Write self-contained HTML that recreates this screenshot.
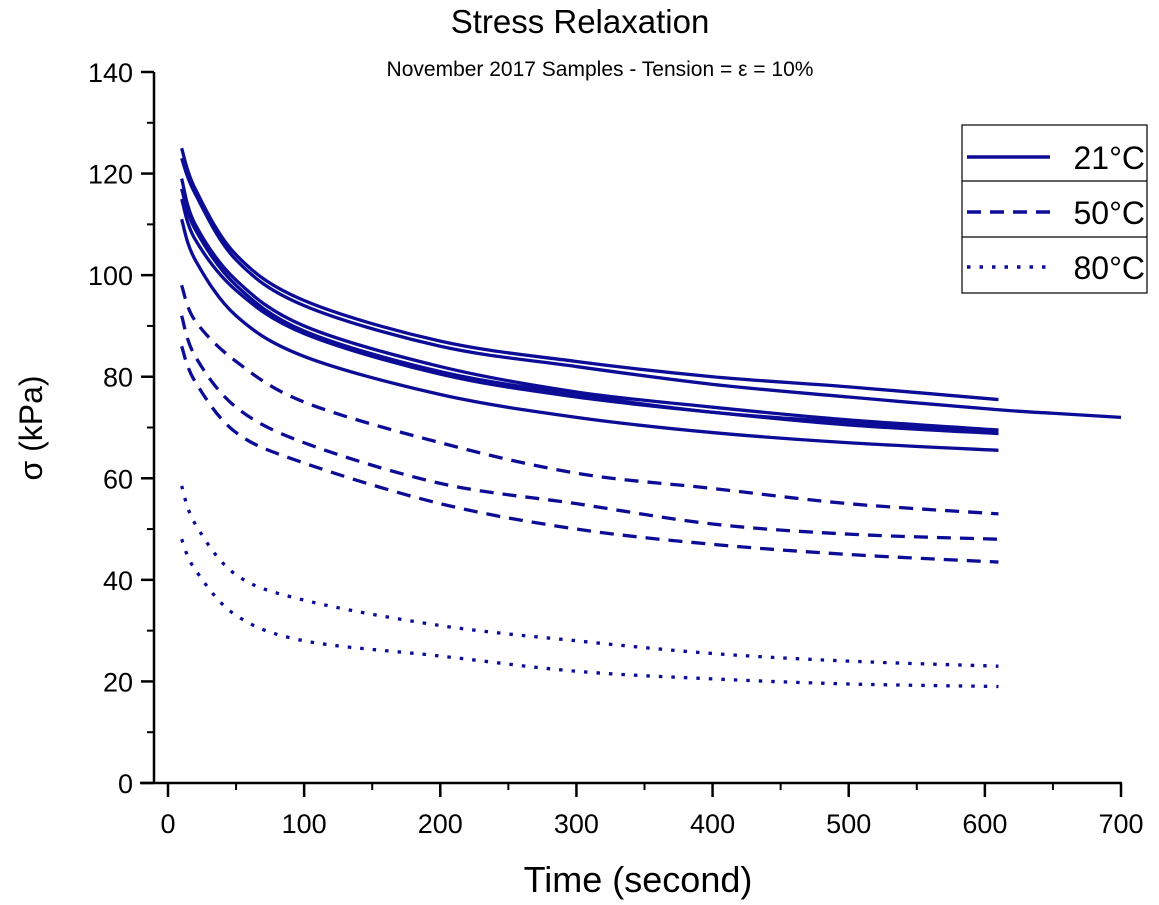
<!DOCTYPE html>
<html><head><meta charset="utf-8"><style>
body{margin:0;background:#fff}
svg{display:block;font-family:"Liberation Sans",Arial,sans-serif}
</style></head><body>
<svg id="chart" width="1159" height="905" viewBox="0 0 1159 905">
<text x="580" y="33" font-size="33" text-anchor="middle">Stress Relaxation</text>
<text x="600" y="76" font-size="21" text-anchor="middle">November 2017 Samples - Tension = ε = 10%</text>
<g id="axes"></g>
<g id="series"></g>
<text x="638" y="892" font-size="36" text-anchor="middle">Time (second)</text>
<text transform="translate(42,428) rotate(-90)" font-size="32" text-anchor="middle">σ (kPa)</text>
<g>
<rect x="962" y="125" width="185" height="168" fill="#fff" stroke="#000" stroke-width="1.2"/>
<line x1="962" y1="181" x2="1147" y2="181" stroke="#000" stroke-width="1.2"/>
<line x1="962" y1="237" x2="1147" y2="237" stroke="#000" stroke-width="1.2"/>
<g><line x1="967" y1="157" x2="1050" y2="157" stroke="#0c0c96" stroke-width="3.5"/><text x="1145" y="169" font-size="32" text-anchor="end">21°C</text></g>
<g><line x1="967" y1="212" x2="1050" y2="212" stroke="#0c0c96" stroke-width="3.5" stroke-dasharray="14,9"/><text x="1145" y="224" font-size="32" text-anchor="end">50°C</text></g>
<g><line x1="967" y1="267" x2="1050" y2="267" stroke="#0c0c96" stroke-width="3.5" stroke-dasharray="3.5,9"/><text x="1145" y="279" font-size="32" text-anchor="end">80°C</text></g>
</g>
</svg>
<script>
const times = [10,20,50,100,200,300,400,500,610];
const s21a = [125,117,104,95,87,83,80,78,75.5];
const s21b = [123,116,103,94,86,82,78.5,76,73.5];
const s21bExtT = [650,700];
const s21bExt = [72.8,72];
const s21c = [119,110,99,90,82,77,74,71.5,69.5];
const s21d = [117,109,98,89,81,76.5,73,71,69];
const s21e = [115,107,97,88.5,80.5,76,73,70.5,68.8];
const s21f = [111,103,92,84,76.5,72,69,67,65.5];
const s50a = [98,91,83,75,67,61,58,55,53];
const s50b = [92,84,74,67,59,55,51,49,48];
const s50c = [86,79,69,63,55,50,47,45,43.5];
const s80a = [58.5,51,41,36,31,28,25.5,24,23];
const s80b = [48,42,33,28,25,22,20.5,19.5,19];
const xTicks = [0,100,200,300,400,500,600,700];
const yTicks = [0,20,40,60,80,100,120,140];

const NS='http://www.w3.org/2000/svg';
const X=v=>168+v*(1121-168)/700;
const Y=v=>783-v*(783-72)/140;
function mk(tag,attrs,parent){const e=document.createElementNS(NS,tag);for(const k in attrs)e.setAttribute(k,attrs[k]);parent.appendChild(e);return e;}
const ax=document.getElementById('axes');
let yl=mk('line',{x1:154,y1:72,x2:154,y2:784,stroke:'#000','stroke-width':2.5},ax);


let xl=mk('line',{x1:140,y1:783,x2:1122,y2:783,stroke:'#000','stroke-width':2.5},ax);


yTicks.forEach(v=>{mk('line',{x1:141,y1:Y(v),x2:154,y2:Y(v),stroke:'#000','stroke-width':2.5},ax);
 if(v<140)mk('line',{x1:147,y1:Y(v+10),x2:154,y2:Y(v+10),stroke:'#000','stroke-width':2},ax);
 const t=mk('text',{x:133,y:Y(v)+10,'font-size':27,'text-anchor':'end'},ax);t.textContent=v;
 
 });
xTicks.forEach(v=>{mk('line',{x1:X(v),y1:783,x2:X(v),y2:797,stroke:'#000','stroke-width':2.5},ax);
 if(v<700)mk('line',{x1:X(v+50),y1:783,x2:X(v+50),y2:790,stroke:'#000','stroke-width':2},ax);
 const t=mk('text',{x:X(v),y:833,'font-size':27,'text-anchor':'middle'},ax);t.textContent=v;
 
 });
function smooth(ts,vs){
 const p=ts.map((t,i)=>[X(t),Y(vs[i])]);let d='M'+p[0][0]+','+p[0][1];
 for(let i=0;i<p.length-1;i++){const p0=p[i-1]||p[i],p1=p[i],p2=p[i+1],p3=p[i+2]||p2;
  const c1=[p1[0]+(p2[0]-p0[0])/6,p1[1]+(p2[1]-p0[1])/6],c2=[p2[0]-(p3[0]-p1[0])/6,p2[1]-(p3[1]-p1[1])/6];
  d+='C'+c1.join(',')+' '+c2.join(',')+' '+p2.join(',');}
 return d;}
const sg=document.getElementById('series');
const series=[['series-21c-a',times,s21a,''],['series-21c-b',times.concat(s21bExtT),s21b.concat(s21bExt),''],['series-21c-c',times,s21c,''],['series-21c-d',times,s21d,''],['series-21c-e',times,s21e,''],['series-21c-f',times,s21f,''],
['series-50c-a',times,s50a,'14,9'],['series-50c-b',times,s50b,'14,9'],['series-50c-c',times,s50c,'14,9'],
['series-80c-a',times,s80a,'3.5,9'],['series-80c-b',times,s80b,'3.5,9']];
series.forEach(s=>{const e=mk('path',{d:smooth(s[1],s[2]),fill:'none',stroke:'#0c0c96','stroke-width':3.3},sg);
 if(s[3])e.setAttribute('stroke-dasharray',s[3]);
 
 });
</script>
</body></html>
